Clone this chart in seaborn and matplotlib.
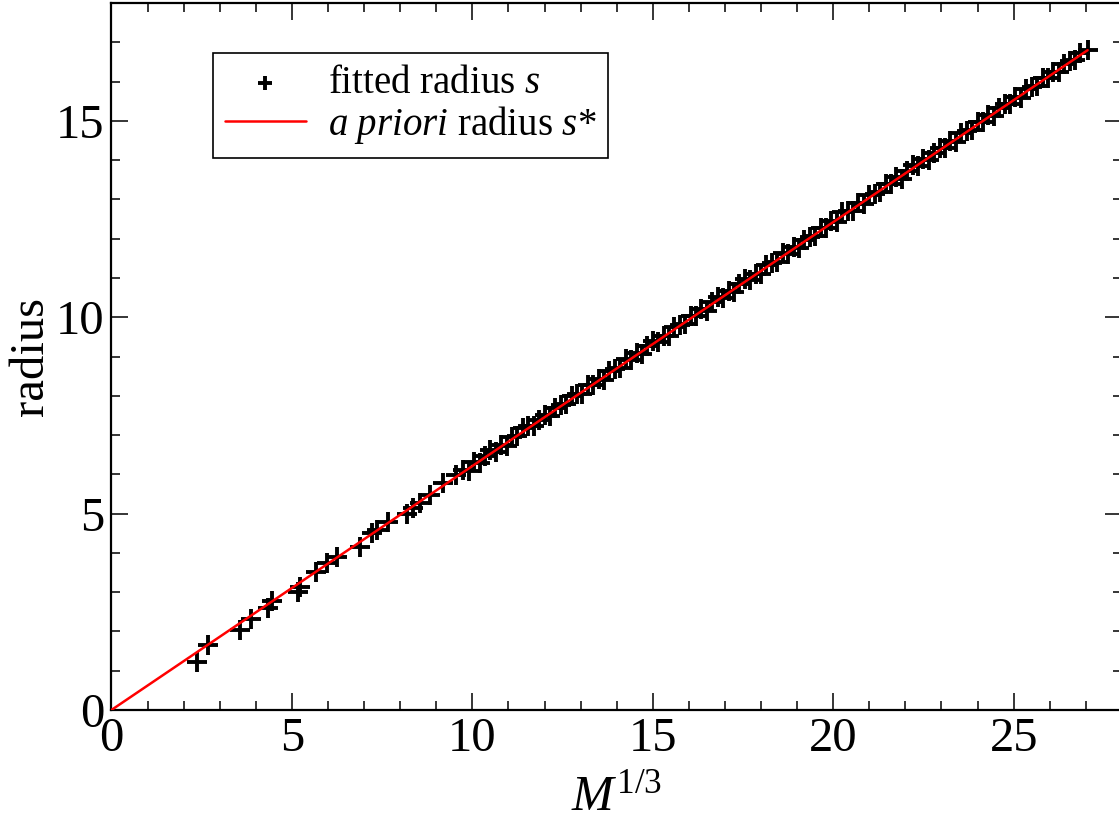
import numpy as np
import seaborn as sns
import matplotlib.pyplot as plt
from matplotlib.ticker import MultipleLocator

# fitted radius s vs M^(1/3)
m13 = [2.36, 2.68, 3.56, 3.86, 4.35, 4.45, 5.18, 5.22, 5.68, 5.96, 6.24, 6.88,
       7.21, 7.35, 7.67, 8.18, 8.36, 8.55, 8.82, 9.19, 9.56,
       9.75, 9.90, 10.05, 10.20, 10.35, 10.50, 10.65, 10.80, 10.95, 11.10,
       11.25, 11.40, 11.55, 11.70, 11.85, 12.00, 12.15, 12.30, 12.45, 12.60,
       12.75, 12.90, 13.05, 13.20, 13.35, 13.50, 13.65, 13.80, 13.95, 14.10,
       14.25, 14.40, 14.55, 14.70, 14.85, 15.00, 15.15, 15.30, 15.45, 15.60,
       15.75, 15.90, 16.05, 16.20, 16.35, 16.50, 16.65, 16.80, 16.95, 17.10,
       17.25, 17.40, 17.55, 17.70, 17.85, 18.00, 18.15, 18.30, 18.45, 18.60,
       18.75, 18.90, 19.05, 19.20, 19.35, 19.50, 19.65, 19.80, 19.95, 20.10,
       20.25, 20.40, 20.55, 20.70, 20.85, 21.00, 21.15, 21.30, 21.45, 21.60,
       21.75, 21.90, 22.05, 22.20, 22.35, 22.50, 22.65, 22.80, 22.95, 23.10,
       23.25, 23.40, 23.55, 23.70, 23.85, 24.00, 24.15, 24.30, 24.45, 24.60,
       24.75, 24.90, 25.05, 25.20, 25.35, 25.50, 25.65, 25.80, 25.95, 26.10,
       26.25, 26.40, 26.55, 26.70, 26.85, 27.05]
s_fit = [1.23, 1.65, 2.04, 2.31, 2.60, 2.78, 3.01, 3.14, 3.52, 3.73, 3.90, 4.16,
         4.50, 4.58, 4.79, 5.00, 5.13, 5.26, 5.47, 5.77, 5.98,
         6.10, 6.09, 6.32, 6.30, 6.47, 6.61, 6.56, 6.74, 6.72, 6.95,
         6.97, 7.19, 7.24, 7.23, 7.38, 7.50, 7.48, 7.68, 7.76, 7.78,
         8.00, 8.05, 8.04, 8.27, 8.27, 8.43, 8.40, 8.63, 8.68, 8.71,
         8.94, 8.91, 9.09, 9.07, 9.26, 9.40, 9.37, 9.53, 9.52, 9.75,
         9.80, 9.82, 10.04, 10.04, 10.20, 10.17, 10.38, 10.52, 10.50, 10.67,
         10.65, 10.84, 10.97, 10.95, 11.11, 11.11, 11.33, 11.39, 11.41, 11.63,
         11.61, 11.78, 11.75, 11.97, 12.04, 12.07, 12.27, 12.28, 12.44, 12.42,
         12.67, 12.70, 12.71, 12.90, 12.88, 13.10, 13.15, 13.19, 13.39, 13.38,
         13.56, 13.52, 13.73, 13.87, 13.86, 14.02, 14.01, 14.19, 14.31, 14.30,
         14.48, 14.46, 14.68, 14.74, 14.77, 14.98, 14.97, 15.14, 15.12, 15.32,
         15.44, 15.44, 15.61, 15.58, 15.80, 15.86, 15.88, 16.10, 16.09, 16.25,
         16.24, 16.44, 16.52, 16.54, 16.73, 16.80]

# a priori radius s* (straight line)
m13_line = [0.0, 27.05]
s_star = [0.0, 16.80]

sns.set_theme(style='ticks')
plt.rcParams['font.family'] = ['Liberation Serif', 'DejaVu Serif']
plt.rcParams['mathtext.fontset'] = 'custom'
plt.rcParams['mathtext.rm'] = 'Liberation Serif'
plt.rcParams['mathtext.it'] = 'Liberation Serif:italic'
plt.rcParams['text.color'] = 'black'
plt.rcParams['axes.labelcolor'] = 'black'

fig = plt.figure(figsize=(11.19, 8.22), dpi=100)
ax = fig.add_axes([0.0996, 0.1363, 0.903, 0.860])

sns.scatterplot(x=m13, y=s_fit, marker='+', s=220, color='black',
                linewidth=2.8, label='fitted radius $s$', ax=ax, zorder=2)
sns.lineplot(x=m13_line, y=s_star, color='red', linewidth=1.8,
             label=r'$\mathit{a\ priori}$ radius $s$*', ax=ax, zorder=3)

ax.set_xlim(0, 28)
ax.set_ylim(0, 18)
ax.xaxis.set_major_locator(MultipleLocator(5))
ax.xaxis.set_minor_locator(MultipleLocator(1))
ax.yaxis.set_major_locator(MultipleLocator(5))
ax.yaxis.set_minor_locator(MultipleLocator(1))
ax.tick_params(which='both', direction='in', top=True, right=True,
               labelsize=35, pad=5, colors='black')
ax.tick_params(which='major', length=12, width=1.1)
ax.tick_params(which='minor', length=6.5, width=1.1)
for sp in ax.spines.values():
    sp.set_linewidth(1.6)
    sp.set_color('black')

ax.set_xlabel('$M^{1/3}$', fontsize=36, labelpad=10)
ax.set_ylabel('radius', fontsize=35, labelpad=2)

leg = ax.legend(loc='upper left', bbox_to_anchor=(0.1004, 0.929), fontsize=28,
                frameon=True, fancybox=False, edgecolor='black', framealpha=1,
                handlelength=2.1, handletextpad=0.55, borderpad=0.3,
                labelspacing=0.05, markerscale=0.65, borderaxespad=0)
leg.get_frame().set_linewidth(1.2)

plt.savefig('out.png', dpi=100)
